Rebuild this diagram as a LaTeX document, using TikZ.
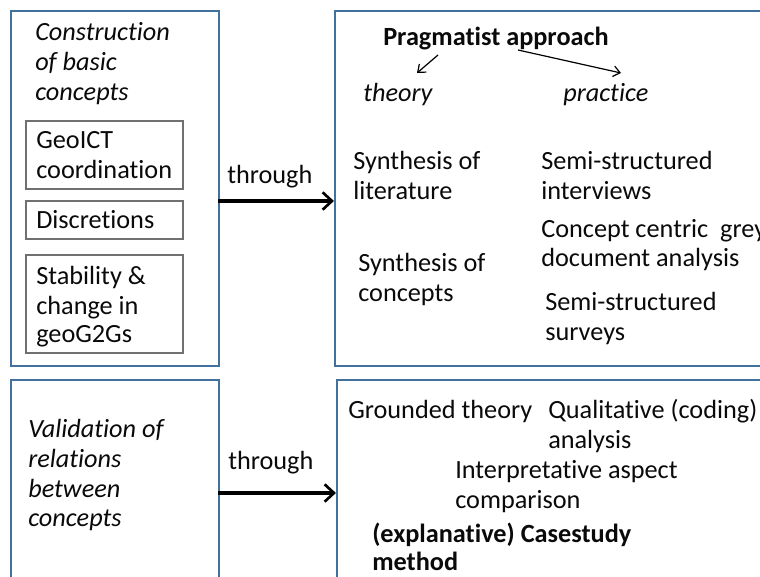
\documentclass[tikz,border=0pt]{standalone}
\usepackage{fontspec}
\setmainfont{Carlito}[Ligatures=NoCommon]
\usetikzlibrary{arrows.meta,fit}
\definecolor{frameblue}{HTML}{41719C}
\definecolor{innergray}{HTML}{707070}
\definecolor{ink}{HTML}{0A0A0A}
\begin{document}
\begin{tikzpicture}[x=0.75pt,y=-0.75pt,
  bigbox/.style={draw=frameblue,line width=1.6pt,inner sep=0pt},
  smallbox/.style={draw=innergray,line width=0.8pt,inner sep=0pt},
  txt/.style={anchor=base west,inner sep=0pt,yshift=-1.3pt,text=ink,font=\fontsize{19.7}{23}\selectfont},
  itxt/.style={txt,font=\fontsize{19.7}{23}\selectfont\itshape},
  btxt/.style={txt,font=\fontsize{19.7}{23}\selectfont\bfseries},
  bigarrow/.style={draw=black,line width=2.3pt,-{Straight Barb[length=7pt,width=13pt,line width=2pt]}},
  thinarrow/.style={draw=black,line width=0.9pt,-{Straight Barb[length=5pt,width=8pt]}}]
\useasboundingbox[fill=white] (0,0) rectangle (760,577);

% outer frames
\node[bigbox,fit={(11,11) (219,366)}] (aim1) {};
\node[bigbox,fit={(335,11) (790,366)}] (how1) {};
\node[bigbox,fit={(11,380) (219,610)}] (aim2) {};
\node[bigbox,fit={(337,380) (790,610)}] (how2) {};

% construction of basic concepts
\node[itxt] (c1) at (35,39) {Construction};
\node[itxt] (c2) at (35,69) {of basic};
\node[itxt] (c3) at (35,99) {concepts};

\node[smallbox,fit={(26,121) (183,189)}] (geo) {};
\node[txt] (geo1) at (36,147) {GeoICT};
\node[txt] (geo2) at (36,177) {coordination};
\node[smallbox,fit={(26,201) (183,239)}] (dis) {};
\node[txt] (dis1) at (36,227) {Discretions};
\node[smallbox,fit={(26,255) (183,353)}] (sta) {};
\node[txt] (sta1) at (36,283) {Stability \&};
\node[txt] (sta2) at (36,313) {change in};
\node[txt] (sta3) at (36,341) {geoG2Gs};

% top link
\node[txt] (thr1) at (227,182) {through};
\coordinate (y1) at (0,201);
\draw[bigarrow] ([xshift=-1.5pt]aim1.east |- y1) -- (how1.west |- y1);

% pragmatist approach
\node[btxt] (prag) at (383,44) {Pragmatist approach};
\node[itxt] (theo) at (363,100) {theory};
\node[itxt] (prac) at (563,100) {practice};
\coordinate (pt1) at (438,55);
\coordinate (pt2) at (417,73);
\coordinate (pp1) at (518,50);
\coordinate (pp2) at (621,73);
\draw[thinarrow] (pt1) -- (pt2);
\draw[thinarrow] (pp1) -- (pp2);

\node[txt] (syn1) at (353,168) {Synthesis of};
\node[txt] (syn2) at (353,198) {literature};
\node[txt] (sem1) at (541,168) {Semi-structured};
\node[txt] (sem2) at (541,198) {interviews};
\node[txt] (cc1) at (541,236) {Concept centric\ \ grey};
\node[txt] (cc2) at (541,265) {document analysis};
\node[txt] (sc1) at (358,270) {Synthesis of};
\node[txt] (sc2) at (358,300) {concepts};
\node[txt] (ss1) at (545,309) {Semi-structured};
\node[txt] (ss2) at (545,339) {surveys};

% validation of relations
\node[itxt] (v1) at (28,436) {Validation of};
\node[itxt] (v2) at (28,466) {relations};
\node[itxt] (v3) at (28,496) {between};
\node[itxt] (v4) at (28,525) {concepts};

\node[txt] (thr2) at (228,468) {through};
\coordinate (y2) at (0,493);
\draw[bigarrow] ([xshift=-1.5pt]aim2.east |- y2) -- (how2.west |- y2);

\node[txt] (gt) at (348,417) {Grounded theory};
\node[txt] (qa1) at (548,417) {Qualitative (coding)};
\node[txt] (qa2) at (548,447) {analysis};
\node[txt] (ia1) at (455,477) {Interpretative aspect};
\node[txt] (ia2) at (455,507) {comparison};
\node[btxt] (cs1) at (372,541) {(explanative) Casestudy};
\node[btxt] (cs2) at (372,569) {method};
\end{tikzpicture}
\end{document}
